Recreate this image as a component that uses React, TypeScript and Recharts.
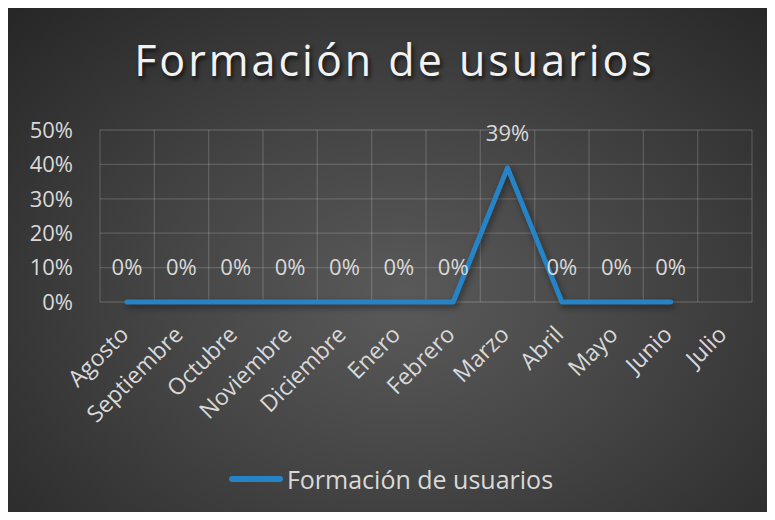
import { LineChart, Line, XAxis, YAxis, CartesianGrid, Legend, LabelList } from "recharts";

const months = [
  "Agosto",
  "Septiembre",
  "Octubre",
  "Noviembre",
  "Diciembre",
  "Enero",
  "Febrero",
  "Marzo",
  "Abril",
  "Mayo",
  "Junio",
  "Julio",
];
const formacion: (number | null)[] = [0, 0, 0, 0, 0, 0, 0, 0.39, 0, 0, 0, null];
const yTicks = [0, 0.1, 0.2, 0.3, 0.4, 0.5];

const SERIES_NAME = "Formación de usuarios";
const BLUE = "#2683c6";
const TEXT = "#d9d9d9";
const FONT = "'Open Sans', 'Noto Sans', sans-serif";

const data = months.map((m, i) => ({ month: m, value: formacion[i] }));

const pct = (v: any) => (v === null || v === undefined ? "" : `${Math.round(Number(v) * 100)}%`);

function MonthTick({ x, y, payload }: any) {
  return (
    <g transform={`translate(${x + 3},${y + 34})`}>
      <text
        x={0}
        y={0}
        textAnchor="end"
        transform="rotate(-45)"
        fill={TEXT}
        fontSize={23}
        fontFamily={FONT}
      >
        {payload.value}
      </text>
    </g>
  );
}

function LegendBox() {
  return (
    <div
      style={{
        height: 60,
        display: "flex",
        alignItems: "center",
        justifyContent: "center",
        fontFamily: FONT,
        fontSize: 25,
        color: TEXT,
        paddingBottom: 6,
        paddingLeft: 22,
        boxSizing: "border-box",
      }}
    >
      <span
        style={{
          display: "inline-block",
          width: 54,
          height: 6,
          borderRadius: 3,
          background: BLUE,
          marginRight: 4,
        }}
      />
      <span>{SERIES_NAME}</span>
    </div>
  );
}

export default function App() {
  return (
    <div
      style={{
        position: "relative",
        width: 759,
        height: 504,
        background: "radial-gradient(ellipse at 52% 58%, #5a5a5a 0%, #444 45%, #262626 100%)",
        fontFamily: FONT,
      }}
    >
      <style>{`.recharts-line-curve { filter: drop-shadow(2px 3px 3px rgba(0,0,0,0.45)); }`}</style>
      <div
        style={{
          position: "absolute",
          top: 26,
          left: 0,
          width: "100%",
          boxSizing: "border-box",
          paddingLeft: 14,
          textAlign: "center",
          fontSize: 43,
          letterSpacing: 3.0,
          color: "#f2f2f2",
          textShadow: "2px 3px 4px rgba(0,0,0,0.7)",
          lineHeight: "52px",
        }}
      >
        {SERIES_NAME}
      </div>
      <LineChart
        width={759}
        height={504}
        data={data}
        margin={{ top: 122, right: 15, left: 0, bottom: 0 }}
      >
        <CartesianGrid
          stroke="rgba(255,255,255,0.16)"
          strokeWidth={1.3}
          verticalCoordinatesGenerator={({ offset }: any) =>
            months.map((_, i) => offset.left + (i * offset.width) / months.length).concat(offset.left + offset.width)
          }
        />
        <XAxis
          dataKey="month"
          axisLine={false}
          tickLine={false}
          tickSize={0}
          tickMargin={0}
          interval={0}
          height={150}
          padding={{ left: 27, right: 27 }}
          tick={<MonthTick />}
        />
        <YAxis
          domain={[0, 0.5]}
          ticks={yTicks}
          tickFormatter={pct}
          axisLine={false}
          tickLine={false}
          tickSize={0}
          tickMargin={27}
          width={92}
          tick={{ fill: TEXT, fontSize: 22, fontFamily: FONT }}
        />
        <Legend verticalAlign="bottom" height={60} content={<LegendBox />} />
        <Line
          type="linear"
          dataKey="value"
          name={SERIES_NAME}
          stroke={BLUE}
          strokeWidth={5}
          strokeLinecap="round"
          strokeLinejoin="round"
          dot={false}
          activeDot={false}
          isAnimationActive={false}
        >
          <LabelList
            dataKey="value"
            position="top"
            offset={27}
            formatter={pct}
            fill={TEXT}
            fontSize={22}
            fontFamily={FONT}
          />
        </Line>
      </LineChart>
    </div>
  );
}
